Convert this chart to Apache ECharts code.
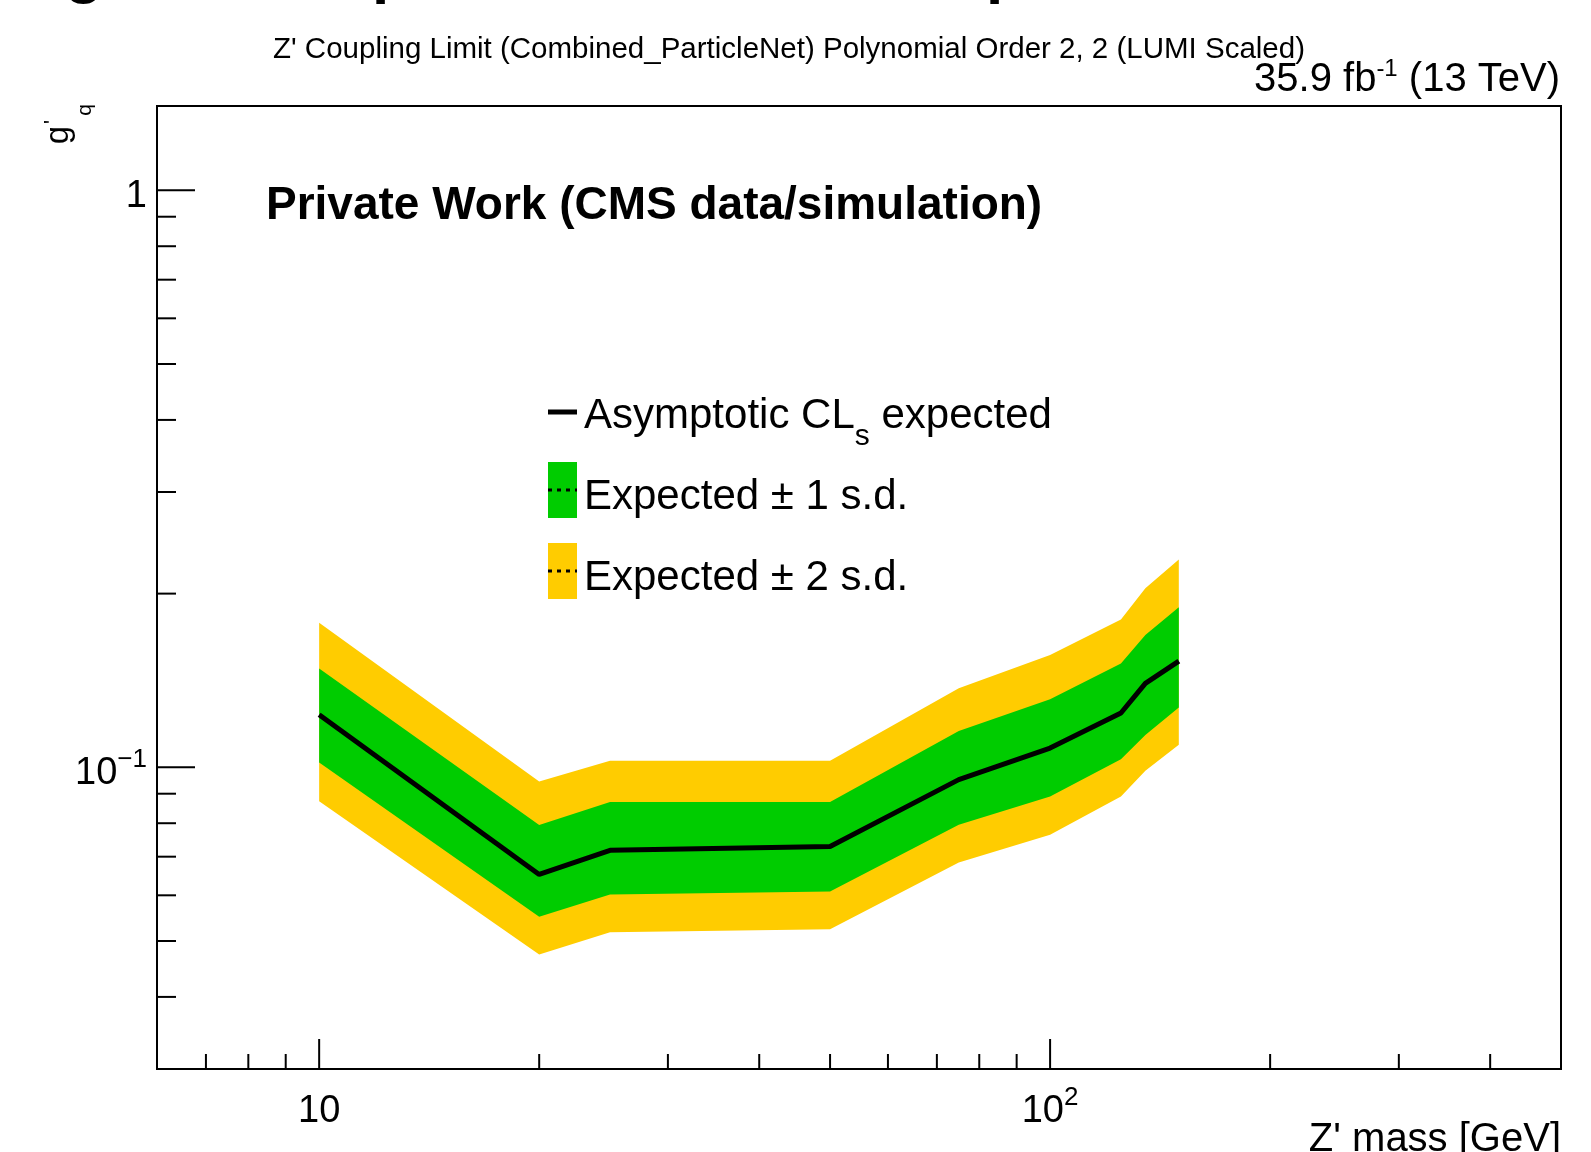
<!DOCTYPE html>
<html>
<head>
<meta charset="utf-8">
<script src="https://cdn.jsdelivr.net/npm/echarts@6/dist/echarts.min.js"></script>
<style>
html,body{margin:0;padding:0;background:#fff;}
#chart{width:1591px;height:1152px;}
</style>
</head>
<body>
<div id="chart"></div>
<script>
// ---- data ----
const masses   = [10, 20, 25, 50, 75, 100, 125, 135, 150];
const expected = [0.1233, 0.0652, 0.0718, 0.0729, 0.0952, 0.1080, 0.1242, 0.1398, 0.1528];
const plus1    = [0.1484, 0.0794, 0.0871, 0.0871, 0.1156, 0.1312, 0.1513, 0.1695, 0.1895];
const minus1   = [0.1019, 0.0551, 0.0602, 0.0609, 0.0795, 0.0890, 0.1033, 0.1138, 0.1270];
const plus2    = [0.1780, 0.0945, 0.1026, 0.1027, 0.1371, 0.1565, 0.1803, 0.2044, 0.2291];
const minus2   = [0.0873, 0.0474, 0.0518, 0.0524, 0.0684, 0.0764, 0.0890, 0.0986, 0.1094];

// ---- axes ----
const xRange = [6, 500];
const yRange = [0.03, 1.4];
const xMajorTicks = [10, 100];
const xMinorTicks = [7, 8, 9, 20, 30, 40, 50, 60, 70, 80, 90, 200, 300, 400];
const yMajorTicks = [0.1, 1];
const yMinorTicks = [0.04, 0.05, 0.06, 0.07, 0.08, 0.09, 0.2, 0.3, 0.4, 0.5, 0.6, 0.7, 0.8, 0.9];

// ---- texts ----
const titleText = "Z' Coupling Limit (Combined_ParticleNet) Polynomial Order 2, 2 (LUMI Scaled)";
const xTitle = "Z' mass [GeV]";
const cmsText = "Private Work (CMS data/simulation)";
const legendLabels = ["Asymptotic CL", "s", " expected", "Expected \u00b1 1 s.d.", "Expected \u00b1 2 s.d."];

const FONT = '"Liberation Sans", Arial, Helvetica, sans-serif';
const GREEN = '#00cc00';
const YELLOW = '#ffcc00';

function powLabel(v) {
  const e = Math.log10(v);
  const r = Math.round(e);
  if (Math.abs(e - r) > 1e-6) return '';
  if (r === 0) return '{b|1}';
  if (r === 1) return '{b|10}';
  return '{b|10}{s|' + String(r).replace('-', '\u2212') + '}';
}

function bandSeries(upper, lower, color, z) {
  return {
    type: 'custom',
    coordinateSystem: 'cartesian2d',
    silent: true,
    clip: false,
    z: z,
    data: masses.map((m, i) => [m, upper[i], lower[i]]),
    encode: { x: 0, y: [1, 2] },
    renderItem: function (params, api) {
      if (params.dataIndex !== 0) return null;
      const top = masses.map((m, i) => api.coord([m, upper[i]]));
      const bot = masses.map((m, i) => api.coord([m, lower[i]])).reverse();
      return { type: 'polygon', shape: { points: top.concat(bot) }, style: { fill: color } };
    }
  };
}

const tickData = []
  .concat(xMinorTicks.map(v => [v, yRange[0], 0]))
  .concat(xMajorTicks.map(v => [v, yRange[0], 1]))
  .concat(yMinorTicks.map(v => [xRange[0], v, 2]))
  .concat(yMajorTicks.map(v => [xRange[0], v, 3]));

const chart = echarts.init(document.getElementById('chart'), null, { renderer: 'canvas' });

const option = {
  animation: false,
  backgroundColor: '#ffffff',
  grid: {
    left: 157, right: 30, top: 106, bottom: 83,
    show: true, borderColor: '#000', borderWidth: 2, backgroundColor: 'transparent',
    outerBoundsMode: 'none'
  },
  xAxis: {
    type: 'log', logBase: 10, min: xRange[0], max: xRange[1],
    axisLine: { show: false }, axisTick: { show: false }, splitLine: { show: false },
    axisLabel: {
      showMinLabel: false, showMaxLabel: false, margin: 16,
      formatter: powLabel,
      rich: {
        b: { fontSize: 38, lineHeight: 40, padding: [8, 0, 0, 0], verticalAlign: 'top', fontFamily: FONT, color: '#000' },
        s: { fontSize: 26, lineHeight: 26, verticalAlign: 'top', fontFamily: FONT, color: '#000' }
      }
    }
  },
  yAxis: {
    type: 'log', logBase: 10, min: yRange[0], max: yRange[1],
    axisLine: { show: false }, axisTick: { show: false }, splitLine: { show: false },
    axisLabel: {
      showMinLabel: false, showMaxLabel: false, margin: 10,
      formatter: powLabel,
      rich: {
        b: { fontSize: 38, lineHeight: 40, padding: [7, 0, 0, 0], verticalAlign: 'top', fontFamily: FONT, color: '#000' },
        s: { fontSize: 26, lineHeight: 26, verticalAlign: 'top', fontFamily: FONT, color: '#000' }
      }
    }
  },
  series: [
    bandSeries(plus2, minus2, YELLOW, 1),
    bandSeries(plus1, minus1, GREEN, 2),
    {
      type: 'line', z: 3,
      data: masses.map((m, i) => [m, expected[i]]),
      symbol: 'none', showSymbol: false, silent: true,
      lineStyle: { color: '#000', width: 5 }
    },
    {
      type: 'custom', coordinateSystem: 'cartesian2d', silent: true, clip: false, z: 5,
      data: tickData,
      encode: { x: 0, y: 1 },
      renderItem: function (params, api) {
        const p = api.coord([api.value(0), api.value(1)]);
        const k = api.value(2);
        let shape;
        if (k === 0 || k === 1) {
          const len = k === 1 ? 30 : 15;
          shape = { x1: p[0], y1: p[1], x2: p[0], y2: p[1] - len };
        } else {
          const len = k === 3 ? 38 : 19;
          shape = { x1: p[0], y1: p[1], x2: p[0] + len, y2: p[1] };
        }
        return { type: 'line', shape: shape, style: { stroke: '#000', lineWidth: 2 } };
      }
    }
  ],
  graphic: [
    // fragments of a larger heading cut off at the top edge
    { type: 'text', x: 65, y: -26, style: { text: 'g', font: 'bold 62px ' + FONT, fill: '#000', align: 'left', verticalAlign: 'middle' } },
    { type: 'text', x: 372, y: -26, style: { text: 'p', font: 'bold 62px ' + FONT, fill: '#000', align: 'left', verticalAlign: 'middle' } },
    { type: 'text', x: 986, y: -26, style: { text: 'p', font: 'bold 62px ' + FONT, fill: '#000', align: 'left', verticalAlign: 'middle' } },
    // title
    { type: 'text', x: 789, y: 50, style: { text: titleText, font: '29.5px ' + FONT, fill: '#000', align: 'center', verticalAlign: 'middle' } },
    // lumi
    { type: 'text', x: 1560, y: 57, style: {
        text: '{a|35.9 fb}{s|-1}{a| (13 TeV)}', align: 'right', verticalAlign: 'top',
        rich: {
          a: { fontSize: 40, lineHeight: 40, padding: [3, 0, 0, 0], verticalAlign: 'top', fontFamily: FONT, fill: '#000' },
          s: { fontSize: 24, lineHeight: 24, verticalAlign: 'top', fontFamily: FONT, fill: '#000' }
        } } },
    // CMS private work
    { type: 'text', x: 266, y: 206, style: { text: cmsText, font: 'bold 46px ' + FONT, fill: '#000', align: 'left', verticalAlign: 'middle' } },
    // y title g'_q
    { type: 'text', x: 42, y: 104, rotation: Math.PI / 2, style: {
        text: "{g|g}{p|'}{q|q}", align: 'right', verticalAlign: 'top',
        rich: {
          g: { fontSize: 33, lineHeight: 33, padding: [0, 0, 0, 0], verticalAlign: 'top', fontFamily: FONT, fill: '#000' },
          p: { fontSize: 22, lineHeight: 22, padding: [0, 4, 0, 2], verticalAlign: 'top', fontFamily: FONT, fill: '#000' },
          q: { fontSize: 21, lineHeight: 21, padding: [33, 0, 0, 0], verticalAlign: 'top', fontFamily: FONT, fill: '#000' }
        } } },
    // x title
    { type: 'text', x: 1561, y: 1140, style: { text: xTitle, font: '40px ' + FONT, fill: '#000', align: 'right', verticalAlign: 'middle' } },
    // legend
    { type: 'line', shape: { x1: 548, y1: 412, x2: 577, y2: 412 }, style: { stroke: '#000', lineWidth: 5 } },
    { type: 'text', x: 584, y: 395, style: {
        text: '{a|' + legendLabels[0] + '}{s|' + legendLabels[1] + '}{a|' + legendLabels[2] + '}',
        align: 'left', verticalAlign: 'top',
        rich: {
          a: { fontSize: 42, lineHeight: 44, verticalAlign: 'top', fontFamily: FONT, fill: '#000' },
          s: { fontSize: 30, lineHeight: 30, padding: [27, 0, 0, 0], verticalAlign: 'top', fontFamily: FONT, fill: '#000' }
        } } },
    { type: 'rect', shape: { x: 548, y: 462, width: 29, height: 56 }, style: { fill: GREEN } },
    { type: 'line', shape: { x1: 548, y1: 490, x2: 577, y2: 490 }, style: { stroke: '#000', lineWidth: 3, lineDash: [4, 5] } },
    { type: 'text', x: 584, y: 497, style: { text: legendLabels[3], font: '42px ' + FONT, fill: '#000', align: 'left', verticalAlign: 'middle' } },
    { type: 'rect', shape: { x: 548, y: 543, width: 29, height: 56 }, style: { fill: YELLOW } },
    { type: 'line', shape: { x1: 548, y1: 571, x2: 577, y2: 571 }, style: { stroke: '#000', lineWidth: 3, lineDash: [4, 5] } },
    { type: 'text', x: 584, y: 578, style: { text: legendLabels[4], font: '42px ' + FONT, fill: '#000', align: 'left', verticalAlign: 'middle' } }
  ]
};
chart.setOption(option);
</script>
</body>
</html>
